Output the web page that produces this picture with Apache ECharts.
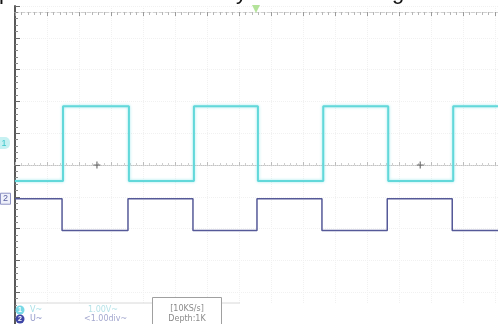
<!DOCTYPE html>
<html>
<head>
<meta charset="utf-8">
<script src="https://cdn.jsdelivr.net/npm/echarts@6/dist/echarts.min.js"></script>
<style>
  html, body { margin: 0; padding: 0; background: #fff; }
  #scope { width: 498px; height: 324px; }
</style>
</head>
<body>
<div id="scope"></div>
<script>
// Edge times of each square wave, in horizontal divisions from the left of the screen
const ch1Edges = [1.50, 3.56, 5.59, 7.59, 9.63, 11.66, 13.69];
const ch2Edges = [1.47, 3.53, 5.56, 7.56, 9.59, 11.63, 13.66];
// Alternating levels in volts, starting with the level before the first edge
const ch1Levels = [-1.19, 1.16];
const ch2Levels = [0.00, -1.00];
// Ground reference of each channel, in vertical divisions from screen centre
const ch1Offset = 0.69;
const ch2Offset = -1.06;
const voltsPerDiv = 1;
// Cursor crosses on the centre line, and trigger position
const cursorX = [2.56, 12.66];
const triggerX = 7.53;
const screenDivs = 15.09;

// Status bar texts
const ch1Coupling = 'V~';
const ch1Scale = '1.00V~';
const ch2Coupling = 'U~';
const ch2Scale = '<1.00div~';
const sampleRate = '[10KS/s]';
const memDepth = 'Depth:1K';

function trace(edges, levels, offset) {
  const lvl = k => offset + levels[k % 2] / voltsPerDiv;
  const pts = [[0, lvl(0)]];
  edges.forEach((t, k) => {
    pts.push([t, lvl(k)]);
    pts.push([t, lvl(k + 1)]);
  });
  pts.push([screenDivs, lvl(edges.length)]);
  return pts;
}

const chart = echarts.init(document.getElementById('scope'), null, { renderer: 'canvas' });

const faintSplit = { show: true, lineStyle: { color: '#f1f1f1', type: 'dotted', width: 1 } };

chart.setOption({
  animation: false,
  backgroundColor: '#ffffff',
  grid: { left: 15, right: 0, top: 6, bottom: -2 },
  xAxis: [
    {
      type: 'value', min: 0, max: screenDivs, interval: 1, position: 'bottom',
      axisLine: { show: true, onZero: true, lineStyle: { color: '#c4c4c4', type: 'dotted', width: 1 } },
      axisTick: { show: true, inside: true, length: 3, lineStyle: { color: '#bdbdbd' } },
      minorTick: { show: true, splitNumber: 5, length: 2, lineStyle: { color: '#cfcfcf' } },
      axisLabel: { show: false },
      splitLine: faintSplit
    },
    {
      type: 'value', min: 0, max: screenDivs, interval: 1, position: 'top', offset: -6,
      axisLine: { show: true, onZero: false, lineStyle: { color: '#d0d0d0', type: 'dashed', width: 1 } },
      axisTick: { show: true, inside: true, length: 4, lineStyle: { color: '#9a9a9a' } },
      minorTick: { show: true, splitNumber: 5, length: 3, lineStyle: { color: '#b5b5b5' } },
      axisLabel: { show: false },
      splitLine: { show: false }
    }
  ],
  yAxis: {
    type: 'value', min: -5, max: 5, interval: 1,
    axisLine: { show: true, lineStyle: { color: '#5a5a5a', width: 2 } },
    axisTick: { show: true, inside: true, length: 5, lineStyle: { color: '#666' } },
    minorTick: { show: true, splitNumber: 5, length: 3, lineStyle: { color: '#888' } },
    axisLabel: { show: false },
    splitLine: faintSplit
  },
  series: [
    {
      name: 'CH1', type: 'line', xAxisIndex: 0, symbol: 'none',
      data: trace(ch1Edges, ch1Levels, ch1Offset),
      lineStyle: { color: '#62d8da', width: 2, shadowColor: 'rgba(130,228,232,0.8)', shadowBlur: 3 },
      z: 3
    },
    {
      name: 'CH2', type: 'line', xAxisIndex: 0, symbol: 'none',
      data: trace(ch2Edges, ch2Levels, ch2Offset),
      lineStyle: { color: '#555998', width: 1.5 },
      z: 4
    },
    {
      name: 'cursor', type: 'scatter', xAxisIndex: 0,
      symbol: 'path://M2.5,0H3.5V2.5H6V3.5H3.5V6H2.5V3.5H0V2.5H2.5Z',
      symbolSize: 7,
      itemStyle: { color: '#4a4a4a' },
      data: cursorX.map(x => [x, 0]),
      z: 5
    }
  ]
});

// Channel ground markers, trigger marker and status bar
const y1 = chart.convertToPixel({ yAxisIndex: 0 }, ch1Offset);
const y2 = chart.convertToPixel({ yAxisIndex: 0 }, ch2Offset);
const xt = chart.convertToPixel({ xAxisIndex: 0 }, triggerX);

chart.setOption({
  graphic: [
    // fragments of the caption line above the screen
    { type: 'text', left: -1, top: -18, style: { text: 'p', font: '22px "Liberation Sans"', fill: '#111' } },
    { type: 'text', left: 236, top: -18, style: { text: 'y', font: '22px "Liberation Sans"', fill: '#111' } },
    { type: 'text', left: 392, top: -18, style: { text: 'g', font: '22px "Liberation Sans"', fill: '#111' } },
    // trigger position
    { type: 'polygon', shape: { points: [[xt - 4, 5], [xt + 4, 5], [xt, 13]] }, style: { fill: '#b4e39a' }, z: 10 },
    // CH1 ground marker
    { type: 'rect', shape: { x: 0, y: y1 - 6, width: 10, height: 12, r: [0, 5, 5, 0] }, style: { fill: '#c6f1f2' }, z: 10 },
    { type: 'text', style: { x: 4, y: y1, text: '1', font: '9px "Liberation Sans"', fill: '#3cc6ca', align: 'center', verticalAlign: 'middle' }, z: 11 },
    // CH2 ground marker
    { type: 'rect', shape: { x: 0.5, y: y2 - 5.5, width: 10, height: 11 }, style: { fill: '#eef0fa', stroke: '#8e93c4', lineWidth: 1 }, z: 10 },
    { type: 'text', style: { x: 5.5, y: y2, text: '2', font: '9px "Liberation Sans"', fill: '#5a5fa0', align: 'center', verticalAlign: 'middle' }, z: 11 },
    // status bar
    { type: 'rect', shape: { x: 17, y: 303, width: 481, height: 21 }, style: { fill: '#ffffff' }, z: 8 },
    { type: 'line', shape: { x1: 16, y1: 303, x2: 240, y2: 303 }, style: { stroke: '#d8d8d8', lineWidth: 1 }, z: 9 },
    { type: 'circle', shape: { cx: 20, cy: 310, r: 4.5 }, style: { fill: '#78d9e6' }, z: 9 },
    { type: 'text', style: { x: 20, y: 310, text: '1', font: 'bold 7px "Liberation Sans"', fill: '#ffffff', align: 'center', verticalAlign: 'middle' }, z: 10 },
    { type: 'circle', shape: { cx: 20, cy: 319, r: 4.5 }, style: { fill: '#3e46a6' }, z: 9 },
    { type: 'text', style: { x: 20, y: 319, text: '2', font: 'bold 7px "Liberation Sans"', fill: '#ffffff', align: 'center', verticalAlign: 'middle' }, z: 10 },
    { type: 'text', style: { x: 30, y: 310, text: ch1Coupling, font: '8px "DejaVu Sans"', fill: '#a6dfe6', verticalAlign: 'middle' }, z: 9 },
    { type: 'text', style: { x: 30, y: 319, text: ch2Coupling, font: '8px "DejaVu Sans"', fill: '#9096c8', verticalAlign: 'middle' }, z: 9 },
    { type: 'text', style: { x: 88, y: 310, text: ch1Scale, font: '8px "DejaVu Sans"', fill: '#b6e3e8', verticalAlign: 'middle' }, z: 9 },
    { type: 'text', style: { x: 84, y: 319, text: ch2Scale, font: '8px "DejaVu Sans"', fill: '#a4a8cf', verticalAlign: 'middle' }, z: 9 },
    { type: 'rect', shape: { x: 152.5, y: 297.5, width: 69, height: 28 }, style: { fill: '#ffffff', stroke: '#a0a0a0', lineWidth: 1 }, z: 9 },
    { type: 'text', style: { x: 187, y: 309, text: sampleRate, font: '8px "DejaVu Sans"', fill: '#8a8a8a', align: 'center', verticalAlign: 'middle' }, z: 10 },
    { type: 'text', style: { x: 187, y: 319, text: memDepth, font: '8px "DejaVu Sans"', fill: '#8a8a8a', align: 'center', verticalAlign: 'middle' }, z: 10 }
  ]
});
</script>
</body>
</html>
